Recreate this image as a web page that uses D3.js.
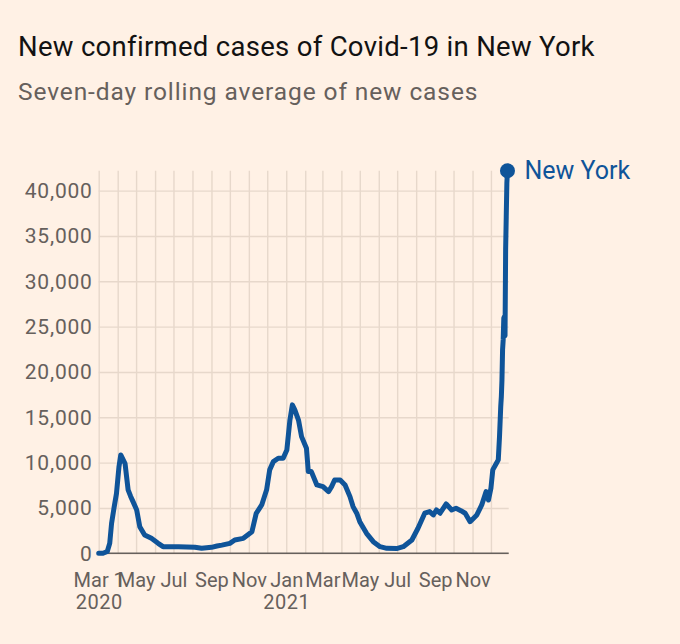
<!DOCTYPE html>
<html>
<head>
<meta charset="utf-8">
<script src="https://cdn.jsdelivr.net/npm/d3@7"></script>
<style>
  body { margin: 0; background: #fff1e5; }
  svg { display: block; }
  text { font-family: Roboto, "Noto Sans", sans-serif; }
</style>
</head>
<body>
<svg id="drawing_region"></svg>
<script>
// 7-day rolling average of new cases
const dates = [
  "2020-03-01","2020-03-08","2020-03-15","2020-03-19","2020-03-22","2020-03-26","2020-03-30",
  "2020-04-03","2020-04-06","2020-04-10","2020-04-13","2020-04-18","2020-04-22","2020-04-26",
  "2020-05-02","2020-05-07","2020-05-15","2020-05-26","2020-06-06","2020-06-14","2020-07-09",
  "2020-08-05","2020-08-16","2020-09-01","2020-09-10","2020-09-18","2020-10-01","2020-10-09",
  "2020-10-23","2020-11-06","2020-11-13","2020-11-22","2020-11-30","2020-12-05","2020-12-11",
  "2020-12-19","2020-12-27","2021-01-02","2021-01-07","2021-01-11","2021-01-15","2021-01-21",
  "2021-01-26","2021-02-03","2021-02-06","2021-02-11","2021-02-20","2021-03-02","2021-03-11",
  "2021-03-16","2021-03-21","2021-03-30","2021-04-07","2021-04-15","2021-04-20","2021-04-26",
  "2021-05-01","2021-05-12","2021-05-23","2021-06-03","2021-06-14","2021-06-30","2021-07-11",
  "2021-07-25","2021-08-04","2021-08-15","2021-08-23","2021-08-29","2021-09-03","2021-09-09",
  "2021-09-19","2021-09-28","2021-10-05","2021-10-13","2021-10-20","2021-10-28","2021-11-08",
  "2021-11-16","2021-11-23","2021-11-27","2021-12-01","2021-12-04","2021-12-10","2021-12-13",
  "2021-12-15","2021-12-17","2021-12-18","2021-12-19","2021-12-20","2021-12-21","2021-12-22",
  "2021-12-23","2021-12-24","2021-12-25","2021-12-26","2021-12-27","2021-12-28"
];
const cases = [
  0, 0, 200, 1100, 3300, 5000, 6600,
  9500, 10850, 10300, 9900, 7000, 6300, 5700,
  4780, 2940, 2020, 1650, 1100, 730, 730,
  660, 550, 660, 800, 900, 1100, 1470,
  1650, 2380, 4400, 5330, 7000, 9200, 10110,
  10480, 10480, 11400, 14700, 16370, 15820, 14700,
  12870, 11590, 9010, 9010, 7540, 7350, 6800,
  7350, 8090, 8090, 7540, 6250, 5150, 4420,
  3490, 2200, 1280, 730, 550, 520, 730,
  1470, 2760, 4420, 4600, 4230, 4780, 4420,
  5440, 4780, 4970, 4700, 4420, 3490, 4230,
  5330, 6800, 5880, 7170, 9200, 9930, 10300,
  12870, 16180, 17280, 19130, 22440, 23540, 25930,
  26120, 24000, 33480, 37150, 40830, 42200
];

const yTicks = [0, 5000, 10000, 15000, 20000, 25000, 30000, 35000, 40000];
const monthTickDates = ["2020-03-01","2020-05-01","2020-07-01","2020-09-01","2020-11-01","2021-01-01",
                        "2021-03-01","2021-05-01","2021-07-01","2021-09-01","2021-11-01"];
const monthTickLabels = ["Mar 1","May","Jul","Sep","Nov","Jan","Mar","May","Jul","Sep","Nov"];
const yearTickDates = ["2020-03-01","2021-01-01"];
const yearTickLabels = ["2020","2021"];
const seriesName = "New York";

const parse = d3.timeParse("%Y-%m-%d");
const data = dates.map((d, i) => ({ date: parse(d), value: cases[i] }));

class LineChart {
  constructor(config, data) {
    this.config = config;
    this.data = data;
    this.init();
  }

  init() {
    let self = this;
    self.svg = d3.select(self.config.parent)
      .attr('width', self.config.width)
      .attr('height', self.config.height);

    self.inner_width = self.config.width - self.config.margin.left - self.config.margin.right;
    self.inner_height = self.config.height - self.config.margin.top - self.config.margin.bottom;

    self.chart = self.svg.append('g')
      .attr('transform', `translate(${self.config.margin.left}, ${self.config.margin.top})`);

    self.xscale = d3.scaleTime()
      .domain([parse("2020-03-01"), parse("2021-12-30")])
      .range([0, self.inner_width]);
    self.yscale = d3.scaleLinear()
      .domain([0, d3.max(self.data, d => d.value)])
      .range([self.inner_height, 0]);

    self.render();
  }

  render() {
    let self = this;
    const grid = '#e7d8cb';
    const ink = '#66605c';

    // titles
    self.svg.append('text')
      .attr('x', 18).attr('y', 56)
      .attr('font-size', 27.5).attr('fill', '#121212')
      .style('letter-spacing', '0.3px')
      .text("New confirmed cases of Covid-19 in New York");
    self.svg.append('text')
      .attr('x', 18).attr('y', 100)
      .attr('font-size', 24.5).attr('fill', ink)
      .style('letter-spacing', '0.9px')
      .text("Seven-day rolling average of new cases");

    // vertical monthly gridlines
    const vgrid = self.chart.append('g')
      .attr('transform', `translate(0, ${self.inner_height})`)
      .call(d3.axisBottom(self.xscale)
        .ticks(d3.timeMonth.every(1))
        .tickSize(-self.inner_height)
        .tickFormat(''));
    vgrid.select('.domain').remove();
    vgrid.selectAll('line').attr('stroke', grid).attr('stroke-width', 1.4);

    // horizontal gridlines + y labels
    const ygroup = self.chart.append('g')
      .call(d3.axisLeft(self.yscale)
        .tickValues(yTicks)
        .tickSize(-self.inner_width)
        .tickPadding(6)
        .tickFormat(d3.format(',')));
    ygroup.select('.domain').remove();
    ygroup.selectAll('line').attr('stroke', grid).attr('stroke-width', 1.4);
    ygroup.selectAll('text')
      .attr('font-size', 21).attr('fill', ink)
      .style('letter-spacing', '0.8px')
      .style('font-family', 'Roboto, "Noto Sans", sans-serif');

    // baseline
    self.chart.append('line')
      .attr('x1', 0).attr('x2', self.inner_width)
      .attr('y1', self.yscale(0)).attr('y2', self.yscale(0))
      .attr('stroke', ink).attr('stroke-width', 1.5);

    // month labels
    const mgroup = self.chart.append('g')
      .attr('transform', `translate(0, ${self.inner_height})`)
      .call(d3.axisBottom(self.xscale)
        .tickValues(monthTickDates.map(parse))
        .tickSize(0)
        .tickPadding(20)
        .tickFormat((d, i) => monthTickLabels[i]));
    mgroup.select('.domain').remove();
    mgroup.selectAll('text')
      .attr('font-size', 20).attr('fill', ink)
      .style('font-family', 'Roboto, "Noto Sans", sans-serif');

    // year labels
    const ygr = self.chart.append('g')
      .attr('transform', `translate(0, ${self.inner_height})`)
      .call(d3.axisBottom(self.xscale)
        .tickValues(yearTickDates.map(parse))
        .tickSize(0)
        .tickPadding(42)
        .tickFormat((d, i) => yearTickLabels[i]));
    ygr.select('.domain').remove();
    ygr.selectAll('text')
      .attr('font-size', 20).attr('fill', ink)
      .style('letter-spacing', '0.5px')
      .style('font-family', 'Roboto, "Noto Sans", sans-serif');

    // the line
    const line = d3.line()
      .x(d => self.xscale(d.date))
      .y(d => self.yscale(d.value));
    self.chart.append('path')
      .datum(self.data)
      .attr('d', line)
      .attr('fill', 'none')
      .attr('stroke', '#0f5499')
      .attr('stroke-width', 5)
      .attr('stroke-linejoin', 'round')
      .attr('stroke-linecap', 'round');

    // end dot + label
    const last = self.data[self.data.length - 1];
    self.chart.append('circle')
      .attr('cx', self.xscale(last.date))
      .attr('cy', self.yscale(last.value))
      .attr('r', 7.5)
      .attr('fill', '#0f5499');
    self.chart.append('text')
      .attr('x', self.xscale(last.date) + 17)
      .attr('y', self.yscale(last.value))
      .attr('dy', '0.35em')
      .attr('font-size', 25)
      .attr('fill', '#0f5499')
      .text(seriesName);
  }
}

const chart = new LineChart({
  parent: '#drawing_region',
  width: 680,
  height: 644,
  margin: { top: 170.7, right: 171.3, bottom: 90.7, left: 98.7 }
}, data);
</script>
</body>
</html>
